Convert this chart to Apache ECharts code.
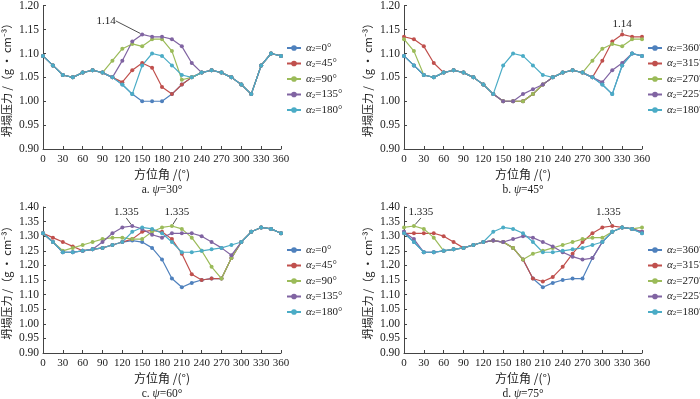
<!DOCTYPE html>
<html>
<head>
<meta charset="utf-8">
<script src="https://cdn.jsdelivr.net/npm/echarts@6/dist/echarts.min.js"></script>
<style>
  html, body { margin: 0; padding: 0; background: #fff; }
  #main { width: 700px; height: 399px; }
</style>
</head>
<body>
<div id="main"></div>
<script>
// azimuth angles (deg)
var angles = [0,15,30,45,60,75,90,105,120,135,150,165,180,195,210,225,240,255,270,285,300,315,330,345,360];

// a. psi = 30
var a_0   = [1.095,1.075,1.055,1.05,1.06,1.065,1.06,1.05,1.035,1.015,1.00,1.00,1.00,1.015,1.035,1.05,1.06,1.065,1.06,1.05,1.035,1.015,1.075,1.10,1.095];
var a_45  = [1.095,1.075,1.055,1.05,1.06,1.065,1.06,1.05,1.04,1.065,1.08,1.07,1.03,1.015,1.035,1.05,1.06,1.065,1.06,1.05,1.035,1.015,1.075,1.10,1.095];
var a_90  = [1.095,1.075,1.055,1.05,1.06,1.065,1.06,1.085,1.11,1.12,1.115,1.13,1.13,1.105,1.045,1.05,1.06,1.065,1.06,1.05,1.035,1.015,1.075,1.10,1.095];
var a_135 = [1.095,1.075,1.055,1.05,1.06,1.065,1.06,1.05,1.085,1.125,1.14,1.135,1.135,1.13,1.115,1.08,1.06,1.065,1.06,1.05,1.035,1.015,1.075,1.10,1.095];
var a_180 = [1.095,1.075,1.055,1.05,1.06,1.065,1.06,1.05,1.035,1.015,1.075,1.10,1.095,1.075,1.055,1.05,1.06,1.065,1.06,1.05,1.035,1.015,1.075,1.10,1.095];

// b. psi = 45
var b_360 = [1.095,1.075,1.055,1.05,1.06,1.065,1.06,1.05,1.035,1.015,1.00,1.00,1.00,1.015,1.035,1.05,1.06,1.065,1.06,1.05,1.035,1.015,1.075,1.10,1.095];
var b_315 = [1.135,1.13,1.115,1.08,1.06,1.065,1.06,1.05,1.035,1.015,1.00,1.00,1.00,1.015,1.035,1.05,1.06,1.065,1.06,1.05,1.085,1.125,1.14,1.135,1.135];
var b_270 = [1.13,1.105,1.055,1.05,1.06,1.065,1.06,1.05,1.035,1.015,1.00,1.00,1.00,1.015,1.035,1.05,1.06,1.065,1.06,1.085,1.11,1.12,1.115,1.13,1.13];
var b_225 = [1.095,1.075,1.055,1.05,1.06,1.065,1.06,1.05,1.035,1.015,1.00,1.00,1.015,1.025,1.035,1.05,1.06,1.065,1.06,1.05,1.04,1.065,1.08,1.10,1.095];
var b_180 = [1.095,1.075,1.055,1.05,1.06,1.065,1.06,1.05,1.035,1.015,1.075,1.10,1.095,1.075,1.055,1.05,1.06,1.065,1.06,1.05,1.035,1.015,1.075,1.10,1.095];

// c. psi = 60
var c_0   = [1.31,1.28,1.245,1.245,1.25,1.255,1.26,1.27,1.28,1.285,1.28,1.26,1.22,1.155,1.125,1.14,1.15,1.155,1.155,1.225,1.28,1.315,1.33,1.325,1.31];
var c_45  = [1.31,1.295,1.28,1.265,1.25,1.255,1.26,1.27,1.28,1.29,1.315,1.32,1.315,1.29,1.24,1.17,1.15,1.155,1.155,1.225,1.28,1.315,1.33,1.325,1.31];
var c_90  = [1.31,1.28,1.25,1.26,1.27,1.28,1.29,1.295,1.295,1.29,1.29,1.315,1.33,1.335,1.325,1.295,1.25,1.195,1.155,1.225,1.28,1.315,1.33,1.325,1.31];
var c_135 = [1.31,1.28,1.245,1.245,1.25,1.255,1.28,1.31,1.33,1.335,1.325,1.305,1.295,1.31,1.31,1.31,1.30,1.28,1.26,1.235,1.28,1.315,1.33,1.325,1.31];
var c_180 = [1.31,1.28,1.245,1.245,1.25,1.255,1.26,1.27,1.28,1.315,1.33,1.325,1.31,1.28,1.245,1.245,1.25,1.255,1.26,1.27,1.28,1.315,1.33,1.325,1.31];

// d. psi = 75
var d_360 = [1.315,1.28,1.245,1.245,1.25,1.255,1.26,1.27,1.28,1.285,1.28,1.26,1.22,1.155,1.125,1.14,1.15,1.155,1.155,1.225,1.28,1.315,1.33,1.325,1.31];
var d_315 = [1.31,1.31,1.31,1.31,1.30,1.28,1.26,1.27,1.28,1.285,1.28,1.26,1.22,1.155,1.145,1.16,1.195,1.24,1.28,1.31,1.33,1.335,1.33,1.325,1.315];
var d_270 = [1.33,1.335,1.325,1.295,1.25,1.255,1.26,1.27,1.28,1.285,1.28,1.26,1.22,1.24,1.25,1.26,1.27,1.28,1.29,1.295,1.295,1.315,1.33,1.325,1.33];
var d_225 = [1.315,1.29,1.245,1.245,1.25,1.255,1.26,1.27,1.28,1.285,1.28,1.29,1.30,1.295,1.28,1.265,1.245,1.23,1.22,1.225,1.28,1.315,1.33,1.325,1.315];
var d_180 = [1.31,1.28,1.245,1.245,1.25,1.255,1.26,1.27,1.28,1.315,1.33,1.325,1.31,1.28,1.245,1.245,1.25,1.255,1.26,1.27,1.28,1.315,1.33,1.325,1.31];

var namesAC = ['α2=0°','α2=45°','α2=90°','α2=135°','α2=180°'];
var namesBD = ['α2=360°','α2=315°','α2=270°','α2=225°','α2=180°'];
var colors = ['#4F81BD','#C0504D','#9BBB59','#8064A2','#4BACC6'];

var serif = '"Liberation Serif", "Noto Sans CJK SC", serif';
var cjk = '"Noto Sans CJK SC", "Liberation Serif", sans-serif';

var grids = [
  {left: 43, top: 5, width: 238, height: 144},
  {left: 404, top: 5, width: 238, height: 144},
  {left: 43, top: 207, width: 238, height: 146},
  {left: 404, top: 207, width: 238, height: 146}
];
var yMax = [1.2, 1.2, 1.4, 1.4];
var captions = ['a. ', 'b. ', 'c. ', 'd. '];
var psis = ['30°', '45°', '60°', '75°'];
var panels = [
  {names: namesAC, data: [a_0, a_45, a_90, a_135, a_180], notes: [{s: 3, at: 150, dx: -36, dy: -3}]},
  {names: namesBD, data: [b_360, b_315, b_270, b_225, b_180], notes: [{s: 1, at: 330, dx: 0, dy: 0}]},
  {names: namesAC, data: [c_0, c_45, c_90, c_135, c_180], notes: [{s: 3, at: 135, dx: -6, dy: -3}, {s: 2, at: 195, dx: 5, dy: -3}]},
  {names: namesBD, data: [d_360, d_315, d_270, d_225, d_180], notes: [{s: 2, at: 15, dx: 7, dy: -3}, {s: 1, at: 315, dx: -4, dy: -3}]}
];

var xAxes = [], yAxes = [], series = [], legends = [], titles = [];
panels.forEach(function (p, g) {
  xAxes.push({
    gridIndex: g, type: 'value', min: 0, max: 360, interval: 30,
    name: '方位角 /(°)', nameLocation: 'middle', nameGap: 19,
    nameTextStyle: {fontFamily: cjk, fontSize: 12, color: '#222'},
    axisLine: {lineStyle: {color: '#444', width: 1}},
    axisTick: {inside: true, length: 3, lineStyle: {color: '#444'}},
    axisLabel: {fontFamily: serif, fontSize: 11, color: '#222', margin: 5},
    splitLine: {show: false}
  });
  yAxes.push({
    gridIndex: g, type: 'value', min: 0.9, max: yMax[g], interval: 0.05,
    name: '坍塌压力 /（g · cm⁻³）', nameLocation: 'middle', nameGap: 31,
    nameTextStyle: {fontFamily: cjk, fontSize: 11, color: '#222'},
    axisLine: {show: true, lineStyle: {color: '#444', width: 1}},
    axisTick: {show: true, inside: true, length: 3, lineStyle: {color: '#444'}},
    axisLabel: {fontFamily: serif, fontSize: 11.5, color: '#222', margin: 4,
      formatter: function (v) { return v.toFixed(2); }},
    splitLine: {show: false}
  });
  p.data.forEach(function (vals, k) {
    var note = null;
    p.notes.forEach(function (n) { if (n.s === k) note = n; });
    var pts = angles.map(function (a, i) {
      if (note && a === note.at) {
        return {value: [a, vals[i]], label: {show: true}, labelLine: {show: true}};
      }
      return [a, vals[i]];
    });
    var s = {
      name: p.names[k], type: 'line', xAxisIndex: g, yAxisIndex: g,
      data: pts, color: colors[k],
      symbol: 'circle', symbolSize: 4, showSymbol: true,
      lineStyle: {width: 1.2},
      animation: false,
      label: {show: false, position: 'top', distance: 3, fontFamily: serif, fontSize: 11, color: '#222',
        formatter: function (q) { return String(q.value[1]); }},
      labelLine: {lineStyle: {color: '#222', width: 0.8}}
    };
    if (note) s.labelLayout = {dx: note.dx, dy: note.dy};
    series.push(s);
  });
  legends.push({
    data: p.names, orient: 'vertical',
    left: grids[g].left + 243, top: grids[g].top + 37,
    padding: 0,
    itemWidth: 14, itemHeight: 7, itemGap: 4,
    textStyle: {fontFamily: serif, fontSize: 11, color: '#222', lineHeight: 10,
      rich: {a: {fontStyle: 'italic', fontFamily: serif, fontSize: 11, lineHeight: 10},
             s: {fontSize: 7, fontFamily: serif, verticalAlign: 'bottom', padding: [4, 0, 0, 0], lineHeight: 10},
             t: {fontFamily: serif, fontSize: 11, lineHeight: 10}}},
    formatter: function (n) { return '{a|α}{s|2}{t|' + n.slice(2) + '}'; },
    selectedMode: false
  });
  titles.push({
    text: '{c|' + captions[g] + '}{i|ψ}{c|=' + psis[g] + '}',
    left: grids[g].left + grids[g].width / 2, textAlign: 'center',
    top: grids[g].top + grids[g].height + 35, padding: 0,
    textStyle: {fontWeight: 'normal',
      rich: {c: {fontFamily: serif, fontSize: 11.5, color: '#222', fontWeight: 'normal'},
             i: {fontFamily: serif, fontSize: 11.5, fontStyle: 'italic', color: '#222', fontWeight: 'normal'}}}
  });
});

var chart = echarts.init(document.getElementById('main'));
chart.setOption({
  backgroundColor: '#fff',
  animation: false,
  title: titles,
  grid: grids,
  xAxis: xAxes,
  yAxis: yAxes,
  legend: legends,
  series: series
});
</script>
</body>
</html>
